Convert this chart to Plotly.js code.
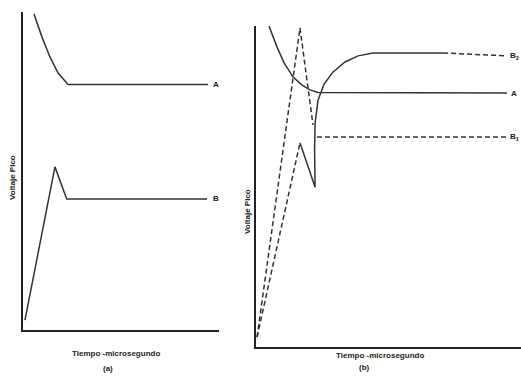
<!DOCTYPE html>
<html>
<head>
<meta charset="utf-8">
<script src="https://cdn.plot.ly/plotly-3.0.1.min.js"></script>
<style>html,body{margin:0;padding:0;background:#fff;}#chart{width:521px;height:376px;}</style>
</head>
<body>
<div id="chart"></div>
<script>
// Panel (a) — arbitrary units 0..100
const aA_x = [5.6, 9.7, 13.8, 17.9, 23.0, 94.4];
const aA_y = [99.4, 92.1, 85.8, 80.8, 77.2, 77.2];
const aB_x = [1.0, 16.3, 22.3, 93.9];
const aB_y = [3.1, 51.3, 41.2, 41.2];

// Panel (b)
const bA_x = [4.9, 7.9, 10.6, 14.0, 17.4, 20.4, 23.4, 94.7];
const bA_y = [100, 93.5, 88.5, 84.1, 81.6, 80.1, 79.3, 79.1];
const bB2rise_x = [0.4, 16.6, 21.5];
const bB2rise_y = [3.1, 99.4, 69.2];
const bBsolid_x = [16.6, 22.3, 22.1, 22.3, 23.4, 25.7, 29.1, 33.6, 38.5, 44.2, 70.6];
const bBsolid_y = [63.6, 49.8, 61.4, 69.8, 76.9, 81.9, 85.7, 88.8, 90.7, 91.6, 91.6];
const bB2tail_x = [70.6, 94.6];
const bB2tail_y = [91.6, 90.7];
const bB1rise_x = [0.4, 16.6];
const bB1rise_y = [3.1, 63.6];
const bB1flat_x = [23.0, 94.6];
const bB1flat_y = [65.4, 65.4];

const curveLabels = ['A', 'B', 'A', 'B<sub>2</sub>', 'B<sub>1</sub>'];
const xTitle = 'Tiempo -microsegundo';
const yTitle = 'Voltaje Pico';
const panelTags = ['(a)', '(b)'];

const solid = {color: '#333', width: 1.5};
const dashed = {color: '#333', width: 1.5, dash: '5px,3px'};

function tr(x, y, line, ax) {
  return {x: x, y: y, mode: 'lines', line: line, xaxis: ax[0], yaxis: ax[1], hoverinfo: 'skip', showlegend: false};
}
const A1 = ['x', 'y'], B1 = ['x2', 'y2'];
const data = [
  tr(aA_x, aA_y, solid, A1),
  tr(aB_x, aB_y, solid, A1),
  tr(bA_x, bA_y, solid, B1),
  tr(bB2rise_x, bB2rise_y, dashed, B1),
  tr(bBsolid_x, bBsolid_y, solid, B1),
  tr(bB2tail_x, bB2tail_y, dashed, B1),
  tr(bB1rise_x, bB1rise_y, dashed, B1),
  tr(bB1flat_x, bB1flat_y, dashed, B1)
];

const axBase = {showline: true, linecolor: '#222', linewidth: 2, showgrid: false, zeroline: false,
  showticklabels: false, ticks: '', fixedrange: true};
const font = {family: 'Liberation Sans, Arial, sans-serif', size: 8, color: '#222'};
function lab(text, x, y, xr, yr) {
  return {text: '<b>' + text + '</b>', x: x, y: y, xref: xr, yref: yr, showarrow: false,
    xanchor: 'left', yanchor: 'middle', borderpad: 0, font: font};
}
function ptxt(text, x, y, rot) {
  return {text: '<b>' + text + '</b>', x: x, y: y, xref: 'paper', yref: 'paper', showarrow: false,
    xanchor: 'center', yanchor: 'middle', textangle: rot || 0, font: font};
}

const layout = {
  width: 521, height: 376,
  margin: {l: 0, r: 0, t: 0, b: 0},
  paper_bgcolor: '#fff', plot_bgcolor: '#fff',
  showlegend: false,
  xaxis: Object.assign({}, axBase, {domain: [23/521, 219/521], range: [0, 100], anchor: 'y'}),
  yaxis: Object.assign({}, axBase, {domain: [(376-330)/376, (376-12)/376], range: [0, 100], anchor: 'x'}),
  xaxis2: Object.assign({}, axBase, {domain: [256/521, 1], range: [0, 100], anchor: 'y2'}),
  yaxis2: Object.assign({}, axBase, {domain: [(376-347)/376, (376-26)/376], range: [0, 100], anchor: 'x2'}),
  annotations: [
    lab(curveLabels[0], 96.5, 77.2, 'x', 'y'),
    lab(curveLabels[1], 96.5, 41.2, 'x', 'y'),
    lab(curveLabels[2], 95.8, 79.1, 'x2', 'y2'),
    lab(curveLabels[3], 95.4, 90.7, 'x2', 'y2'),
    lab(curveLabels[4], 95.4, 65.4, 'x2', 'y2'),
    ptxt(xTitle, 116/521, (376-353)/376),
    ptxt(panelTags[0], 108/521, (376-368)/376),
    ptxt(xTitle, 380/521, (376-355)/376),
    ptxt(panelTags[1], 364/521, (376-367)/376),
    ptxt(yTitle, 12/521, (376-178)/376, -90),
    ptxt(yTitle, 247/521, (376-212)/376, -90)
  ]
};

Plotly.newPlot('chart', data, layout, {staticPlot: true, displayModeBar: false});
</script>
</body>
</html>
